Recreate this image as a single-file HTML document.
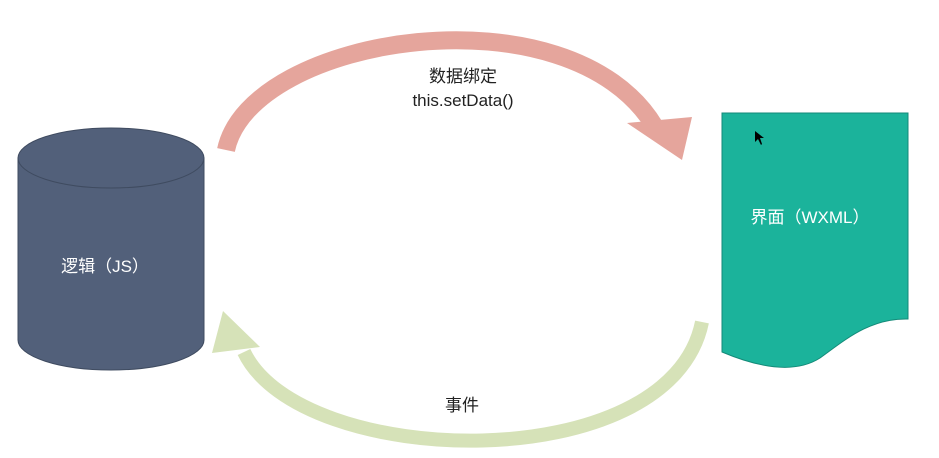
<!DOCTYPE html>
<html><head><meta charset="utf-8"><style>
html,body{margin:0;padding:0;background:#fff;}
svg{display:block;}
text{font-family:"Liberation Sans","Noto Sans CJK SC",sans-serif;}
</style></head><body>
<svg width="939" height="458" viewBox="0 0 939 458">
<!-- top arrow -->
<path d="M226,150 C250,35 570,-15 655,127" fill="none" stroke="#e5a59c" stroke-width="18"/>
<polygon points="627,123 692,117 682,160" fill="#e5a59c"/>
<!-- bottom arrow -->
<path d="M702,322 C670,480 300,470 244,352" fill="none" stroke="#d6e2b8" stroke-width="14"/>
<polygon points="223,311 212,353 260,347" fill="#d6e2b8"/>
<!-- cylinder -->
<path d="M18,158 L18,340 A93,30 0 0 0 204,340 L204,158 Z" fill="#52607a" stroke="#3f4b60" stroke-width="1"/>
<ellipse cx="111" cy="158" rx="93" ry="30" fill="#52607a" stroke="#3f4b60" stroke-width="1"/>
<text x="105" y="272" fill="#fff" font-size="17" text-anchor="middle">逻辑（JS）</text>
<!-- document -->
<path d="M722,113 L908,113 L908,319 C870,318 845,340 820,358 C795,374 760,368 722,352 Z" fill="#1bb39b" stroke="#138a78" stroke-width="1"/>
<text x="810" y="223" fill="#fff" font-size="17" text-anchor="middle">界面（WXML）</text>
<!-- labels -->
<text x="463" y="82" fill="#222" font-size="17" text-anchor="middle">数据绑定</text>
<text x="463" y="106" fill="#222" font-size="17" text-anchor="middle">this.setData()</text>
<text x="462" y="411" fill="#222" font-size="17" text-anchor="middle">事件</text>
<!-- cursor -->
<polygon points="755,131 755,142 758,139 761,145 762,144 760,138 764,138" fill="#000"/>
</svg>
</body></html>
